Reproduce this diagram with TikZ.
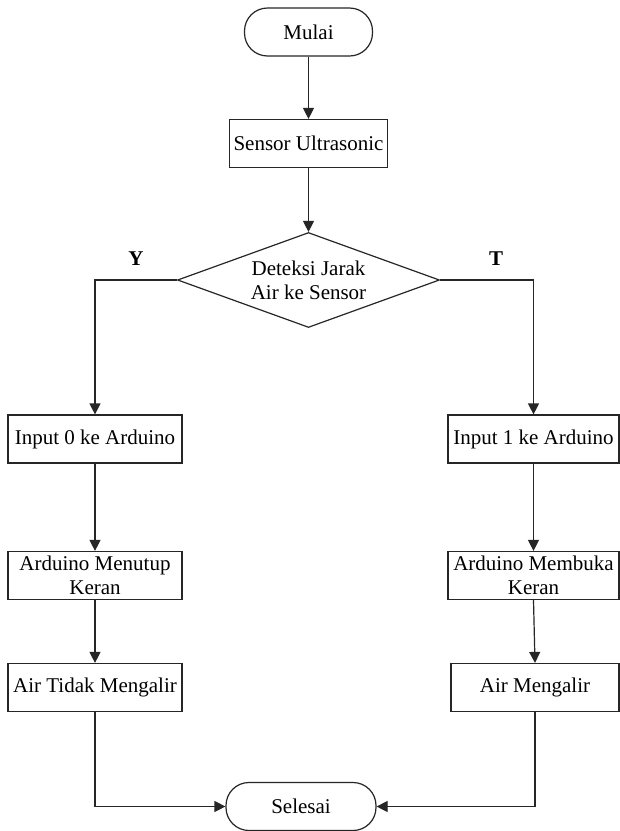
\documentclass[tikz,border=0pt]{standalone}
\usepackage{fontspec}
\setmainfont{Liberation Serif}
\usetikzlibrary{shapes.geometric,arrows.meta}

\begin{document}
\begin{tikzpicture}[x=0.5pt,y=-0.5pt,
  font=\fontsize{10.5}{12}\selectfont,
  term/.style={draw=black!85,line width=0.6pt,rounded corners=11.5pt,minimum height=24pt,inner sep=1pt},
  proc/.style={draw=black!85,line width=0.6pt,minimum height=24pt,inner sep=1pt,align=center},
  dec/.style={diamond,draw=black!85,line width=0.6pt,aspect=2.75,inner sep=0pt,
    minimum width=131pt,minimum height=47.5pt,align=center},
  lbl/.style={font=\fontsize{10.5}{12}\selectfont\bfseries,inner sep=0pt,above=7pt},
  flow/.style={-{Triangle[length=5.5pt,width=5.5pt]},draw=black!85,line width=0.6pt}]
  \fill[white] (0,0) rectangle (620,831);
  \useasboundingbox (0,0) rectangle (620,831);
  % top part
  \node[term,minimum width=64pt] (mulai) at (308.5,32) {Mulai};
  \node[proc,minimum width=79pt] (sensor) at (308.5,143.5) {Sensor Ultrasonic};
  \node[dec] (deteksi) at (308.5,280) {Deteksi Jarak\\Air ke Sensor};
  % branch Y
  \node[proc,minimum width=87pt] (in0) at (95,439) {Input 0 ke Arduino};
  \node[proc,minimum width=87pt] (tutup) at (95,575.5) {Arduino Menutup\\Keran};
  \node[proc,minimum width=87pt] (tidak) at (95,687.5) {Air Tidak Mengalir};
  % branch T
  \node[proc,minimum width=85.5pt] (in1) at (533.5,439) {Input 1 ke Arduino};
  \node[proc,minimum width=85.5pt] (buka) at (533.5,575.5) {Arduino Membuka\\Keran};
  \node[proc,minimum width=84pt] (alir) at (535,687.5) {Air Mengalir};
  \node[term,minimum width=75pt] (selesai) at (301,806.5) {Selesai};

  \draw[flow] (mulai) -- (sensor);
  \draw[flow] (sensor) -- (deteksi);
  \draw[flow] (deteksi.west) -| node[lbl,pos=0.25] {Y} (in0.north);
  \draw[flow] (deteksi.east) -| node[lbl,pos=0.3] {T} (in1.north);
  \draw[flow] (in0) -- (tutup);
  \draw[flow] (tutup) -- (tidak);
  \draw[flow] (in1) -- (buka);
  \draw[flow] (buka.south) -- (alir.north);
  \draw[flow] (tidak.south) |- (selesai.west);
  \draw[flow] (alir.south) |- (selesai.east);
\end{tikzpicture}
\end{document}
